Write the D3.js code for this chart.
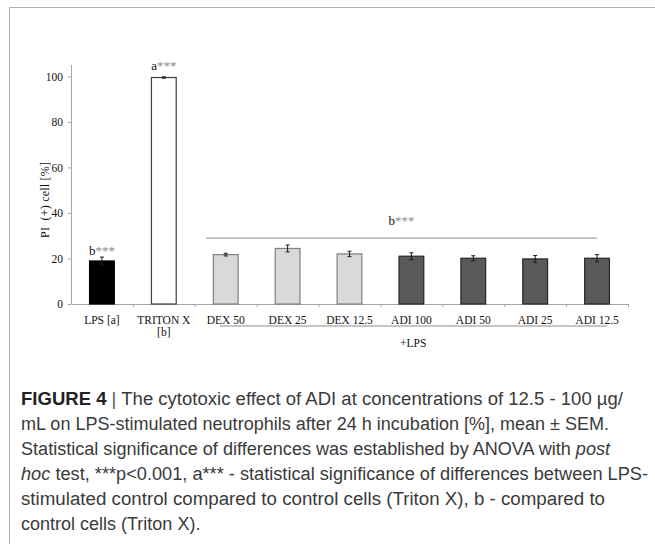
<!DOCTYPE html>
<html>
<head>
<meta charset="utf-8">
<script src="https://cdn.jsdelivr.net/npm/d3@7"></script>
<style>
  body { margin: 0; background: #fff; }
</style>
</head>
<body>
<div class="canvas"></div>
<script>
const categories = ["LPS [a]", "TRITON X|[b]", "DEX 50", "DEX 25", "DEX 12.5", "ADI 100", "ADI 50", "ADI 25", "ADI 12.5"];
const groups = ["lps", "triton", "dex", "dex", "dex", "adi", "adi", "adi", "adi"];
const means = [18.9, 99.5, 21.7, 24.4, 22.0, 21.0, 20.1, 19.8, 20.1];
const sems = [1.7, 0.3, 0.6, 1.5, 1.2, 1.5, 1.1, 1.5, 1.6];
const yTicks = [0, 20, 40, 60, 80, 100];
const sigLevel = 28.9;
const captionLines = [
  "The cytotoxic effect of ADI at concentrations of 12.5 - 100 µg/",
  "mL on LPS-stimulated neutrophils after 24 h incubation [%], mean ± SEM.",
  "Statistical significance of differences was established by ANOVA with |post",
  "|hoc| test, ***p<0.001, a*** - statistical significance of differences between LPS-",
  "stimulated control compared to control cells (Triton X), b - compared to",
  "control cells (Triton X)."
];
// right end of each caption line in the picture
const captionEnds = [623, 609, 610, 648, 605, null];

const width = 655;
const height = 544;
const margin = ({ top: 65, left: 71, right: 27, bottom: 240 });

const fills = { lps: "#000000", triton: "#ffffff", dex: "#d9d9d9", adi: "#595959" };
const strokes = { lps: "#000000", triton: "#3f3f3f", dex: "#7f7f7f", adi: "#262626" };

const svg = d3.select('.canvas')
  .append('svg')
  .attr('width', width)
  .attr('height', height)
  .attr("viewBox", [0, 0, width, height]);

// frame
svg.append("path")
  .attr("d", `M9.5,${height + 5}V7.5H${width + 5}`)
  .attr("fill", "none")
  .attr("stroke", "#b0b0b0");

const x = d3.scaleBand()
  .domain(categories)
  .range([margin.left, width - margin.right]);

const y = d3.scaleLinear()
  .domain([0, 105])
  .range([height - margin.bottom, margin.top]);

const data = categories.map((c, i) => ({ cat: c, group: groups[i], mean: means[i], sem: sems[i] }));
const barW = x.bandwidth() * 0.4;
const serif = "'Liberation Serif', 'Times New Roman', serif";
const cx = d => x(d) + x.bandwidth() / 2;

// y axis
const yAxis = svg.append("g")
  .attr("transform", `translate(${margin.left},0)`)
  .call(d3.axisLeft(y).tickValues(yTicks).tickSize(3).tickPadding(5))
  .style("font-family", serif)
  .style("font-size", "11.5px");
yAxis.select(".domain").attr("stroke", "#a6a6a6").attr("d", `M0.5,${y(0)}V${y(105)}`);
yAxis.selectAll(".tick line").attr("stroke", "#a6a6a6");
yAxis.selectAll(".tick text").attr("fill", "#111");

// x axis
const xAxis = svg.append("g")
  .attr("transform", `translate(0,${y(0)})`)
  .call(d3.axisBottom(x).tickSize(0).tickFormat(""));
xAxis.select(".domain").attr("stroke", "#a6a6a6");
xAxis.selectAll(".tick").remove();
svg.append("g")
  .selectAll("line")
  .data(categories.slice(1).map(d => x(d)).concat([x.range()[1]]))
  .join("line")
  .attr("x1", d => d + 0.5)
  .attr("x2", d => d + 0.5)
  .attr("y1", y(0))
  .attr("y2", y(0) + 3)
  .attr("stroke", "#a6a6a6");

// x labels
const xl = svg.append("g")
  .selectAll("text")
  .data(categories)
  .join("text")
  .attr("x", cx)
  .attr("y", y(0) + 20)
  .attr("text-anchor", "middle")
  .style("font-family", serif)
  .style("font-size", "11.5px")
  .attr("fill", "#111");
xl.each(function (d) {
  d3.select(this).selectAll("tspan")
    .data(d.split("|"))
    .join("tspan")
    .attr("x", cx(d))
    .attr("dy", (p, i) => i === 0 ? 0 : 12)
    .text(p => p);
});

// bars
svg.append("g")
  .selectAll("rect")
  .data(data)
  .join("rect")
  .attr("x", d => cx(d.cat) - barW / 2)
  .attr("y", d => y(d.mean))
  .attr("width", barW)
  .attr("height", d => y(0) - y(d.mean))
  .attr("fill", d => fills[d.group])
  .attr("stroke", d => strokes[d.group])
  .attr("stroke-width", 1.2);

// error bars
const err = svg.append("g")
  .selectAll("g")
  .data(data)
  .join("g")
  .attr("transform", d => `translate(${cx(d.cat)},0)`)
  .attr("stroke", "#1a1a1a");
err.append("line")
  .attr("y1", d => y(d.mean - d.sem))
  .attr("y2", d => y(d.mean + d.sem));
err.append("line")
  .attr("x1", -2).attr("x2", 2)
  .attr("y1", d => y(d.mean + d.sem)).attr("y2", d => y(d.mean + d.sem));
err.append("line")
  .attr("x1", -2).attr("x2", 2)
  .attr("y1", d => y(d.mean - d.sem)).attr("y2", d => y(d.mean - d.sem));

// significance line over treated groups
const first = categories[2];
const last = categories[categories.length - 1];
const sigX1 = x(first) + x.bandwidth() * 0.18;
const sigX2 = cx(last);
svg.append("line")
  .attr("x1", sigX1).attr("x2", sigX2)
  .attr("y1", y(sigLevel)).attr("y2", y(sigLevel))
  .attr("stroke", "#a6a6a6")
  .attr("stroke-width", 1.2);

// +LPS bracket line
const lpsX1 = x(first) + x.bandwidth() * 0.4;
const lpsX2 = x(last) + x.bandwidth() * 0.66;
svg.append("line")
  .attr("x1", lpsX1).attr("x2", lpsX2)
  .attr("y1", y(0) + 22).attr("y2", y(0) + 22)
  .attr("stroke", "#8c8c8c");
svg.append("text")
  .attr("x", (lpsX1 + lpsX2) / 2)
  .attr("y", y(0) + 43)
  .attr("text-anchor", "middle")
  .style("font-family", serif)
  .style("font-size", "11.5px")
  .attr("fill", "#111")
  .text("+LPS");

// significance labels
function sigLabel(letter, px, by) {
  const t = svg.append("text")
    .attr("x", px)
    .attr("y", by)
    .attr("text-anchor", "middle")
    .style("font-family", serif)
    .style("font-size", "13px")
    .attr("fill", "#111");
  t.append("tspan").text(letter);
  t.append("tspan")
    .attr("fill", "#8c8c8c")
    .text("***");
}
sigLabel("b", cx(categories[0]), y(means[0] + sems[0]) - 2);
sigLabel("a", cx(categories[1]), y(means[1] + sems[1]) - 7);
sigLabel("b", (sigX1 + sigX2) / 2, y(sigLevel) - 13);

// y label
svg.append("text")
  .attr("transform", `translate(49,200) rotate(-90)`)
  .attr("text-anchor", "middle")
  .style("font-family", serif)
  .style("font-size", "12px")
  .attr("fill", "#111")
  .attr("textLength", 76)
  .attr("lengthAdjust", "spacing")
  .attr("xml:space", "preserve")
  .text("PI  (+) cell [%]");

// caption
const cap = svg.append("g")
  .style("font-family", "'Liberation Sans', Arial, sans-serif")
  .style("font-size", "18px")
  .attr("fill", "#3a3a3a");
captionLines.forEach((line, i) => {
  const t = cap.append("text")
    .attr("x", 21)
    .attr("y", 405 + i * 25);
  if (i === 0) {
    t.append("tspan").style("font-weight", "bold").attr("fill", "#222").text("FIGURE 4");
    t.append("tspan").attr("fill", "#555").text(" | ");
  }
  line.split("|").forEach((seg, j) => {
    t.append("tspan")
      .style("font-style", j % 2 === 1 ? "italic" : "normal")
      .text(seg);
  });
  if (captionEnds[i]) {
    t.attr("textLength", captionEnds[i] - 21).attr("lengthAdjust", "spacingAndGlyphs");
  }
});
</script>
</body>
</html>
